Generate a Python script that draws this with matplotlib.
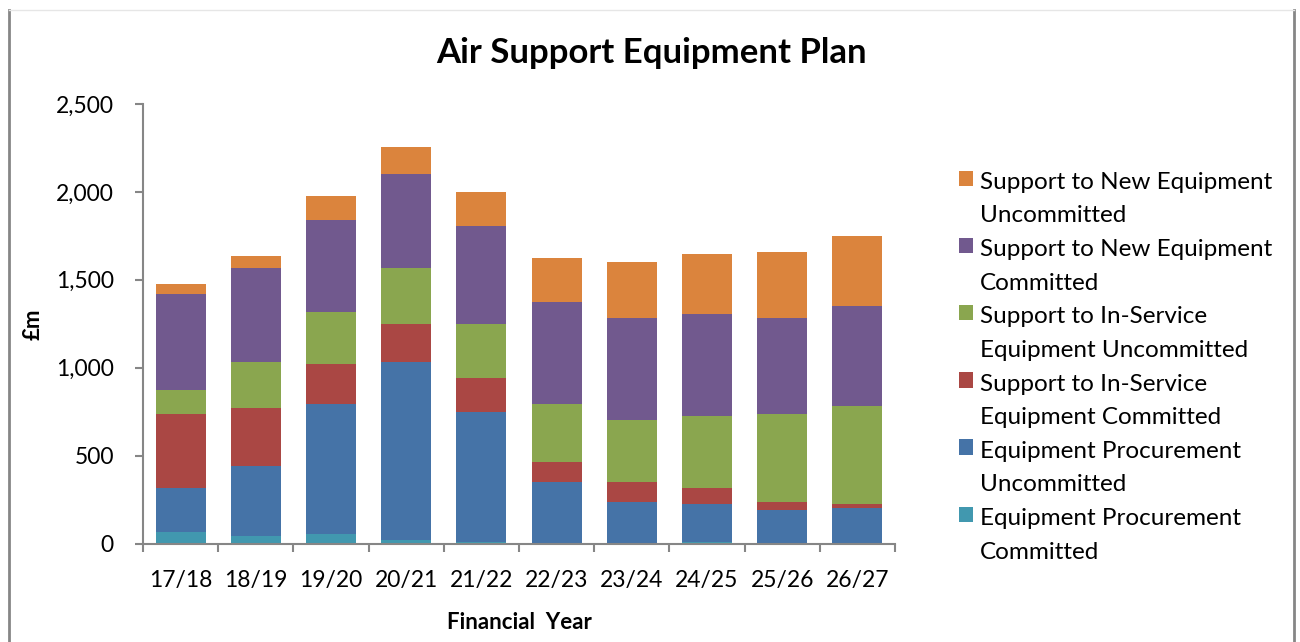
"""Air Support Equipment Plan stacked bar chart."""

import matplotlib.pyplot as plt
import numpy as np
from matplotlib.legend_handler import HandlerPatch
from matplotlib.lines import Line2D
from matplotlib.patches import Rectangle

plt.rcParams["font.family"] = ["Lato", "DejaVu Sans"]

years = ["17/18", "18/19", "19/20", "20/21", "21/22",
         "22/23", "23/24", "24/25", "25/26", "26/27"]

# stacked from bottom to top, £m
proc_committed = [65, 43, 54, 20, 8, 2, 2, 8, 2, 2]
proc_uncommitted = [250, 397, 739, 1011, 739, 347, 234, 216, 188, 200]
insvc_committed = [421, 330, 227, 216, 193, 114, 113, 91, 46, 22]
insvc_uncommitted = [136, 261, 295, 318, 307, 330, 353, 409, 500, 557]
new_committed = [546, 534, 523, 535, 557, 579, 579, 580, 545, 568]
new_uncommitted = [57, 69, 137, 158, 193, 250, 319, 341, 375, 398]

series = [
    ("Equipment Procurement\nCommitted", proc_committed, "#4198AF"),
    ("Equipment Procurement\nUncommitted", proc_uncommitted, "#4573A7"),
    ("Support to In-Service\nEquipment Committed", insvc_committed, "#AA4744"),
    ("Support to In-Service\nEquipment Uncommitted", insvc_uncommitted, "#8AA64F"),
    ("Support to New Equipment\nCommitted", new_committed, "#71598E"),
    ("Support to New Equipment\nUncommitted", new_uncommitted, "#DB843D"),
]

AXIS_GREY = "#868686"
LEGEND_SIZE = 17.5
LINE_SPACING = 1.74
HANDLE_SHIFT = 15  # points, lifts the square onto the first label line


class TopAlignedPatch(HandlerPatch):
    """Legend square aligned with the first line of a two-line label."""

    def create_artists(self, legend, orig_handle, xdescent, ydescent,
                       width, height, fontsize, trans):
        patch = Rectangle((-xdescent, -ydescent + HANDLE_SHIFT), width, height,
                          facecolor=orig_handle.get_facecolor(), linewidth=0)
        patch.set_transform(trans)
        return [patch]


def main() -> None:
    fig = plt.figure(figsize=(13, 6.42), dpi=100)
    ax = fig.add_axes([143 / 1300, 1 - 543.5 / 642, 752 / 1300, 439.5 / 642])

    x = np.arange(len(years))
    bottom = np.zeros(len(years))
    handles = []
    for label, values, color in series:
        bars = ax.bar(x, values, bottom=bottom, width=0.665, color=color,
                      label=label, linewidth=0)
        handles.append(bars.patches[0])
        bottom += np.array(values)

    ax.set_xlim(-0.5, len(years) - 0.5)
    ax.set_ylim(0, 2500)
    ax.set_yticks(np.arange(0, 2501, 500))
    ax.set_yticklabels([f"{v:,}" for v in range(0, 2501, 500)], fontsize=16.5)
    ax.set_xticks(x)
    ax.set_xticklabels(years, fontsize=16.5)
    ax.set_xticks(np.arange(-0.5, len(years)), minor=True)
    ax.tick_params(axis="x", which="major", length=0, pad=19)
    ax.tick_params(axis="x", which="minor", length=6, color=AXIS_GREY, width=1.5)
    ax.tick_params(axis="y", length=6, color=AXIS_GREY, width=1.5, pad=15)
    for side in ("top", "right"):
        ax.spines[side].set_visible(False)
    for side in ("left", "bottom"):
        ax.spines[side].set_color(AXIS_GREY)
        ax.spines[side].set_linewidth(1.5)

    ax.set_xlabel("Financial  Year", fontsize=16, fontweight="bold", labelpad=15)
    ax.set_ylabel("£m", fontsize=16, fontweight="bold", labelpad=9)
    fig.text(652 / 1300, 1 - 53 / 642, "Air Support Equipment Plan",
             ha="center", va="center", fontsize=25, fontweight="bold")

    leg = ax.legend(handles[::-1], [s[0] for s in series][::-1],
                    loc="upper left",
                    bbox_to_anchor=(937 / 1300, 1 - 150 / 642),
                    bbox_transform=fig.transFigure, frameon=False,
                    fontsize=LEGEND_SIZE, handlelength=0.6, handleheight=0.6,
                    handletextpad=0.25, labelspacing=0.52,
                    handler_map={Rectangle: TopAlignedPatch()})
    for text in leg.get_texts():
        text.set_linespacing(LINE_SPACING)

    # chart-area frame, as cropped in the source image
    fig.add_artist(Line2D([9 / 1300, 9 / 1300], [0, 1 - 10 / 642],
                          transform=fig.transFigure, color=AXIS_GREY, lw=2))
    fig.add_artist(Line2D([1294 / 1300, 1294 / 1300], [0, 1 - 10 / 642],
                          transform=fig.transFigure, color=AXIS_GREY, lw=2))
    fig.add_artist(Line2D([9 / 1300, 1294 / 1300], [1 - 10 / 642, 1 - 10 / 642],
                          transform=fig.transFigure, color="#E6E6E6", lw=1))

    fig.savefig("out.png", dpi=100)
    plt.close(fig)


if __name__ == "__main__":
    main()
